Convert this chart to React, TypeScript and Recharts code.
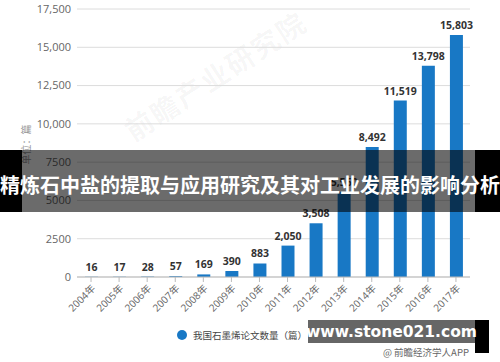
import React from 'react'
import { BarChart, Bar, XAxis, YAxis, CartesianGrid, LabelList } from 'recharts'

// 我国石墨烯论文数量（篇）
const years = ['2004年', '2005年', '2006年', '2007年', '2008年', '2009年', '2010年', '2011年', '2012年', '2013年', '2014年', '2015年', '2016年', '2017年']
const paperCounts = [16, 17, 28, 57, 169, 390, 883, 2050, 3508, 5560, 8492, 11519, 13798, 15803]
const yTicks = [0, 2500, 5000, 7500, 10000, 12500, 15000, 17500]

const chartData = years.map((year, i) => ({ year, count: paperCounts[i] }))

const numFont = "'Open Sans', 'Noto Sans CJK SC', sans-serif"
const cjkFont = "'Noto Sans CJK SC', sans-serif"

const formatTick = (v: number) => (v >= 10000 ? v.toLocaleString('en-US') : String(v))

export default function App() {
  return (
    <div style={{ position: 'absolute', left: 0, top: 0, width: 500, height: 362, background: '#fff', overflow: 'hidden' }}>
      {/* faint watermark */}
      <div
        style={{
          position: 'absolute', left: 110, top: 55, fontFamily: cjkFont, fontSize: 28, fontWeight: 700,
          color: 'rgba(0,0,0,0.045)', transform: 'rotate(-33deg)', whiteSpace: 'nowrap', letterSpacing: 2,
        }}
      >
        前瞻产业研究院
      </div>

      <BarChart width={500} height={362} data={chartData} margin={{ top: 9, right: 30, bottom: 0, left: 0 }}>
        <CartesianGrid vertical={false} stroke="#dcdcdc" />
        <XAxis
          dataKey="year"
          height={85}
          interval={0}
          angle={-45}
          textAnchor="end"
          tick={{ fill: '#666', fontSize: 10, fontFamily: numFont }}
          tickSize={5}
          tickLine={{ stroke: '#bbb' }}
          axisLine={{ stroke: '#bbb' }}
        />
        <YAxis
          width={77}
          domain={[0, 17500]}
          ticks={yTicks}
          tickFormatter={formatTick}
          tick={{ fill: '#666', fontSize: 11, fontFamily: numFont }}
          tickSize={4}
          tickLine={false}
          axisLine={false}
        />
        <Bar dataKey="count" fill="#1878c5" barSize={13} isAnimationActive={false}>
          <LabelList
            dataKey="count"
            position="top"
            offset={6}
            formatter={(v: any) => Number(v).toLocaleString('en-US')}
            style={{ fill: '#333', fontSize: 10.5, fontWeight: 700, fontFamily: numFont }}
          />
        </Bar>
      </BarChart>

      {/* y axis unit */}
      <div
        style={{
          position: 'absolute', left: 5, top: 137, width: 40, textAlign: 'center', fontFamily: cjkFont,
          fontSize: 10, color: '#999', transform: 'rotate(-90deg)', whiteSpace: 'nowrap',
        }}
      >
        单位：篇
      </div>

      {/* legend */}
      <div style={{ position: 'absolute', left: 177, top: 328, display: 'flex', alignItems: 'center', fontFamily: cjkFont, fontSize: 9.5, color: '#444' }}>
        <span style={{ width: 10, height: 10, borderRadius: 5, background: '#1878c5', display: 'inline-block', marginRight: 6 }} />
        我国石墨烯论文数量（篇）
      </div>

      {/* overlay banner */}
      <div style={{ position: 'absolute', left: 0, top: 150, width: 22, height: 62, background: '#000' }} />
      <div style={{ position: 'absolute', left: 475, top: 150, width: 25, height: 62, background: '#000' }} />
      <div
        style={{
          position: 'absolute', left: 0, top: 150, width: 500, height: 62, background: 'rgba(0,0,0,0.58)',
          display: 'flex', alignItems: 'center', justifyContent: 'center',
        }}
      >
        <span style={{ color: '#fff', fontFamily: cjkFont, fontWeight: 700, fontSize: 20, whiteSpace: 'nowrap', marginTop: 6 }}>
          精炼石中盐的提取与应用研究及其对工业发展的影响分析
        </span>
      </div>

      {/* site watermark */}
      <div style={{ position: 'absolute', left: 475, top: 320, width: 14, height: 33, background: '#000' }} />
      <div
        style={{
          position: 'absolute', left: 308, top: 320, width: 167, height: 23, background: 'rgba(0,0,0,0.6)',
          display: 'flex', alignItems: 'center', justifyContent: 'center',
        }}
      >
        <span style={{ color: '#fff', fontFamily: "'DejaVu Sans', sans-serif", fontWeight: 700, fontSize: 15.5, whiteSpace: 'nowrap' }}>
          www.stone021.com
        </span>
      </div>
      <div style={{ position: 'absolute', left: 383, top: 345, fontFamily: cjkFont, fontSize: 9.5, color: '#666', whiteSpace: 'nowrap' }}>
        @ 前瞻经济学人APP
      </div>
    </div>
  )
}
